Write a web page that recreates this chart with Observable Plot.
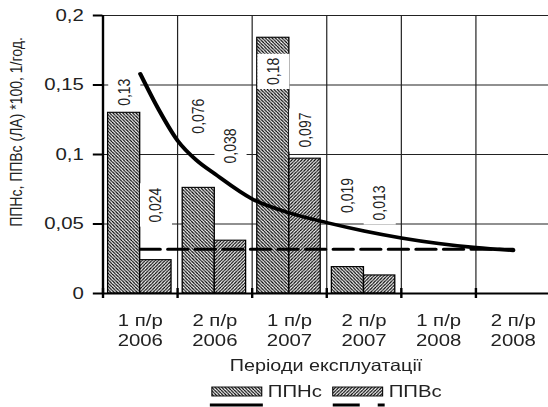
<!DOCTYPE html>
<html><head><meta charset="utf-8">
<script src="https://cdn.jsdelivr.net/npm/d3@7"></script>
<script src="https://cdn.jsdelivr.net/npm/@observablehq/plot@0.6"></script>
<style>
html,body{margin:0;padding:0;background:#fff;overflow:hidden;}
#wrap{position:relative;width:457px;height:407px;transform:scaleX(1.1991);transform-origin:0 0;font-family:"Liberation Sans",Arial,sans-serif;color:#222;}
#xtitle{position:absolute;left:85.4px;width:373px;top:355px;text-align:center;font-size:16.5px;line-height:20px;white-space:nowrap;}
#ytitle{position:absolute;left:13.3px;top:132px;width:0;height:0;}
#ytitle span{position:absolute;left:0;top:0;transform:translate(-50%,-50%) rotate(-90deg);white-space:nowrap;font-size:14px;line-height:14px;}
#legend{position:absolute;left:0;top:380px;}
</style></head><body>
<svg width="0" height="0" style="position:absolute">
  <defs>
    <pattern id="hN" patternUnits="userSpaceOnUse" width="2.75" height="3.3">
      <rect width="2.75" height="3.3" fill="#fff"/>
      <path d="M-2.75,0 L0,3.3 M0,0 L2.75,3.3 M2.75,0 L5.5,3.3" stroke="#000" stroke-width="1.1"/>
    </pattern>
    <pattern id="hV" patternUnits="userSpaceOnUse" width="2.75" height="3.3">
      <rect width="2.75" height="3.3" fill="#fff"/>
      <path d="M-2.75,3.3 L0,0 M0,3.3 L2.75,0 M2.75,3.3 L5.5,0" stroke="#000" stroke-width="1.1"/>
    </pattern>
  </defs>
</svg>
<div id="wrap">
  <div id="plot"></div>
  <div id="ytitle"><span id="ytitleText"></span></div>
  <div id="xtitle">Періоди експлуатації</div>
  <svg id="legend" width="457" height="27">
    <rect x="176.7" y="7" width="41.6" height="9" fill="url(#hN)" stroke="#000" stroke-width="0.9"/>
    <text x="223.3" y="17.5" font-size="17" fill="#222">ППНс</text>
    <rect x="277.5" y="7" width="41.6" height="9" fill="url(#hV)" stroke="#000" stroke-width="0.9"/>
    <text x="324.2" y="17.5" font-size="17" fill="#222">ППВс</text>
    <line x1="175" x2="219.2" y1="25" y2="25" stroke="#000" stroke-width="3"/>
    <line x1="277.5" x2="300" y1="25" y2="25" stroke="#000" stroke-width="3"/>
    <line x1="315" x2="320.8" y1="25" y2="25" stroke="#000" stroke-width="3"/>
  </svg>
</div>
<script>
// ---- data ----
const periods = ["1 п/р\n2006", "2 п/р\n2006", "1 п/р\n2007", "2 п/р\n2007", "1 п/р\n2008", "2 п/р\n2008"];
const ppnc = [0.13, 0.076, 0.184, 0.019];
const ppvc = [0.024, 0.038, 0.097, 0.013];
const ppncLabelAt = [0.135, 0.115, 0.150, 0.058];
const ppvcLabelAt = [0.051, 0.0935, 0.105, 0.0525];
const trendX = [1, 1.25, 1.5, 1.75, 2, 2.5, 3, 3.5, 4, 4.5, 5, 5.5, 6];
const trendY = [0.158, 0.132, 0.110, 0.096, 0.086, 0.068, 0.058, 0.051, 0.045, 0.040, 0.036, 0.033, 0.031];
const flatX = [1, 6];
const flatY = [0.0318, 0.0318];
const yTicks = [0, 0.05, 0.1, 0.15, 0.2];
const yTitle = "ППНс, ППВс (ЛА) *100, 1/год.";

// ---- build ----
document.getElementById("ytitleText").textContent = yTitle;
const comma = v => String(v).replace(".", ",");
const fmt2 = v => comma(d3.format(".2")(v));
const barsN = ppnc.map((v, k) => ({i: k + 1, v}));
const barsV = ppvc.map((v, k) => ({i: k + 1, v}));
const labels = [
  ...ppnc.map((v, k) => ({x: k + 1 - 0.215, y: ppncLabelAt[k], t: fmt2(v)})),
  ...ppvc.map((v, k) => ({x: k + 1 + 0.21, y: ppvcLabelAt[k], t: fmt2(v)}))
];
const trend = trendX.map((x, k) => ({x, y: trendY[k]}));
const flat = flatX.map((x, k) => ({x, y: flatY[k]}));
const bounds = d3.range(0.5, 7, 1);

const plot = Plot.plot({
  width: 457,
  height: 350,
  marginLeft: 85.4,
  marginRight: 0,
  marginTop: 15,
  marginBottom: 57,
  style: {fontFamily: "'Liberation Sans', Arial, sans-serif", color: "#222", background: "#fff", overflow: "visible"},
  x: {type: "linear", domain: [0.5, 6.5], range: [85.4, 458.6]},
  y: {domain: [0, 0.2], range: [293, 15]},
  marks: [
    Plot.ruleY(yTicks.slice(1), {stroke: "#222", strokeWidth: 1}),
    Plot.ruleX(bounds.slice(1, -1), {y1: 0, y2: 0.2, stroke: "#222", strokeWidth: 1}),
    Plot.rectY(barsN, {x1: d => d.i - 0.43, x2: d => d.i, y1: 0, y2: "v", fill: "url(#hN)", stroke: "#000", strokeWidth: 1.1}),
    Plot.rectY(barsV, {x1: d => d.i, x2: d => d.i + 0.42, y1: 0, y2: "v", fill: "url(#hV)", stroke: "#000", strokeWidth: 1.1}),
    Plot.text(labels, {x: "x", y: "y", text: "t", rotate: -90, textAnchor: "start", lineAnchor: "middle", fontSize: 14, fill: "#222"}),
    Plot.line(flat, {x: "x", y: "y", stroke: "#000", strokeWidth: 3, strokeDasharray: "16.5,6.5"}),
    Plot.line(trend, {x: "x", y: "y", stroke: "#000", strokeWidth: 3.6, curve: "monotone-x"}),
    Plot.ruleY([0], {stroke: "#000", strokeWidth: 2}),
    Plot.ruleX([0.5], {y1: 0, y2: 0.2, stroke: "#000", strokeWidth: 2}),
    Plot.ruleX(bounds, {y1: 0, y2: 0, insetTop: -5, insetBottom: -5, stroke: "#000", strokeWidth: 2}),
    Plot.axisY({ticks: yTicks, tickFormat: comma, tickSize: 8, tickPadding: 8, fontSize: 17, strokeWidth: 2, stroke: "#000", label: null}),
    Plot.axisX({ticks: [1, 2, 3, 4, 5, 6], tickSize: 0, tickPadding: 18, tickFormat: i => periods[i - 1], fontSize: 17, lineHeight: 1.18, label: null})
  ]
});
document.getElementById("plot").appendChild(plot);

// white label boxes (as in the original data labels)
try {
  const xs = plot.scale("x");
  const hw = Math.abs(xs.apply(0.43) - xs.apply(0)) / 2;
  plot.querySelectorAll("text").forEach(t => {
    const tr = t.getAttribute("transform") || "";
    if (!/rotate\(-90\)/.test(tr)) return;
    const bb = t.getBBox();
    const r = document.createElementNS("http://www.w3.org/2000/svg", "rect");
    r.setAttribute("x", bb.x - 4);
    r.setAttribute("width", bb.width + 8);
    r.setAttribute("y", -hw);
    r.setAttribute("height", 2 * hw);
    r.setAttribute("fill", "#fff");
    r.setAttribute("transform", tr);
    t.parentNode.insertBefore(r, t);
  });
} catch (e) { console.error(e); }
</script>
</body></html>
